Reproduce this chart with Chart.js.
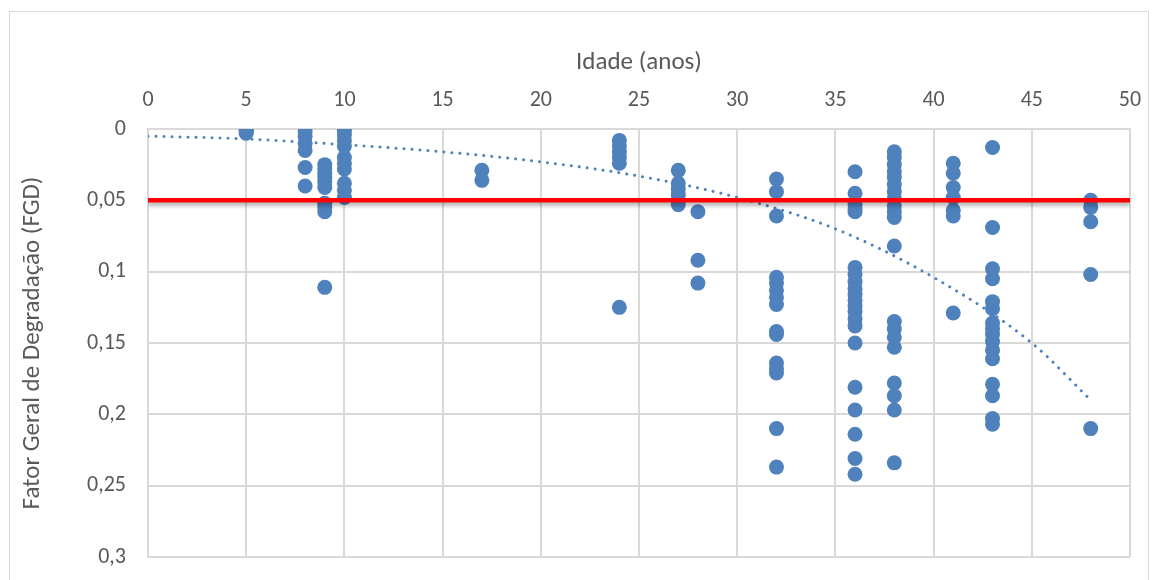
<!DOCTYPE html>
<html>
<head>
<meta charset="utf-8">
<script src="https://cdn.jsdelivr.net/npm/chart.js@4.4.1/dist/chart.umd.min.js"></script>
<style>
  body { margin: 0; background: #fff; }
  canvas { display: block; }
</style>
</head>
<body>
<canvas id="fgdChart" width="1158" height="580"></canvas>
<script>
// ages (anos) and the FGD readings found at each age
const ages = [5, 8, 9, 10, 17, 24, 27, 28, 32, 36, 38, 41, 43, 48];
const fgdByAge = [
  [0, 0.001, 0.002, 0.003],
  [0.002, 0.005, 0.01, 0.015, 0.027, 0.04],
  [0.025, 0.028, 0.031, 0.034, 0.037, 0.041, 0.052, 0.055, 0.058, 0.111],
  [0.001, 0.004, 0.008, 0.012, 0.02, 0.024, 0.028, 0.038, 0.043, 0.048],
  [0.029, 0.036],
  [0.008, 0.012, 0.016, 0.02, 0.024, 0.125],
  [0.029, 0.038, 0.042, 0.046, 0.05, 0.053],
  [0.058, 0.092, 0.108],
  [0.035, 0.044, 0.061, 0.104, 0.108, 0.113, 0.118, 0.123, 0.142, 0.144, 0.164, 0.168, 0.171, 0.21, 0.237],
  [0.03, 0.045, 0.053, 0.056, 0.058, 0.097, 0.102, 0.107, 0.112, 0.116, 0.12, 0.124, 0.128, 0.133, 0.138, 0.15, 0.181, 0.197, 0.214, 0.231, 0.242],
  [0.016, 0.02, 0.025, 0.03, 0.034, 0.039, 0.044, 0.049, 0.054, 0.058, 0.062, 0.082, 0.135, 0.14, 0.146, 0.153, 0.178, 0.187, 0.197, 0.234],
  [0.024, 0.031, 0.041, 0.048, 0.057, 0.061, 0.129],
  [0.013, 0.069, 0.098, 0.105, 0.121, 0.126, 0.136, 0.14, 0.144, 0.149, 0.155, 0.161, 0.179, 0.187, 0.203, 0.207],
  [0.05, 0.055, 0.065, 0.102, 0.21]
];

// dotted trend line
const trendX = [0, 5, 10, 15, 20, 25, 30, 35, 40, 45, 48];
const trendY = [0.005, 0.007, 0.011, 0.016, 0.023, 0.033, 0.048, 0.07, 0.104, 0.15, 0.19];

// red limit line
const limitX = [0, 50];
const limitY = [0.05, 0.05];

const textColor = '#595959';
const gridColor = '#d9d9d9';
const blue = '#4f81bd';
const fontFamily = "Carlito, Lato, 'Liberation Sans', sans-serif";

let scatterPoints = [];
ages.forEach((age, i) => {
  fgdByAge[i].forEach(v => scatterPoints.push({x: age, y: v}));
});
const trendPoints = trendX.map((x, i) => ({x: x, y: trendY[i]}));
const limitPoints = limitX.map((x, i) => ({x: x, y: limitY[i]}));

function commaLabel(v) {
  return String(+Number(v).toFixed(2)).replace('.', ',');
}

// outer frame of the chart + shadow under the red line
const framePlugin = {
  id: 'frame',
  beforeDraw(chart) {
    const c = chart.ctx;
    c.save();
    c.fillStyle = '#ffffff';
    c.fillRect(0, 0, chart.width, chart.height);
    c.strokeStyle = gridColor;
    c.lineWidth = 1;
    c.strokeRect(9.5, 11.5, 1139, 620);
    c.restore();
  },
  beforeDatasetDraw(chart, args) {
    if (args.index === 0) {
      chart.ctx.save();
      chart.ctx.shadowColor = 'rgba(0, 0, 0, 0.35)';
      chart.ctx.shadowOffsetY = 3;
      chart.ctx.shadowBlur = 4;
    }
  },
  afterDatasetDraw(chart, args) {
    if (args.index === 0) {
      chart.ctx.restore();
    }
  }
};

const ctx = document.getElementById('fgdChart').getContext('2d');
const myChart = new Chart(ctx, {
  type: 'scatter',
  data: {
    datasets: [{
      type: 'line',
      label: 'Limite',
      data: limitPoints,
      borderColor: '#ff0000',
      borderWidth: 4.5,
      pointRadius: 0,
      fill: false,
    }, {
      type: 'line',
      label: 'Tendência',
      data: trendPoints,
      borderColor: blue,
      borderWidth: 3,
      borderDash: [0.01, 8],
      borderCapStyle: 'round',
      cubicInterpolationMode: 'monotone',
      pointRadius: 0,
      fill: false,
    }, {
      label: 'FGD',
      data: scatterPoints,
      backgroundColor: blue,
      borderColor: blue,
      borderWidth: 0,
      pointRadius: 7.5,
    }]
  },
  options: {
    responsive: false,
    devicePixelRatio: 1,
    animation: false,
    layout: {
      padding: {left: 9, top: 11, right: 28, bottom: 23}
    },
    plugins: {
      legend: {display: false},
      tooltip: {enabled: false}
    },
    scales: {
      x: {
        type: 'linear',
        position: 'top',
        min: 0,
        max: 50,
        afterFit: scale => { scale.height = 118; },
        ticks: {
          stepSize: 5,
          padding: 15,
          color: textColor,
          font: {family: fontFamily, size: 22},
        },
        grid: {color: gridColor, lineWidth: 2, drawTicks: false},
        border: {color: gridColor, width: 2},
        title: {
          display: true,
          text: 'Idade (anos)',
          color: textColor,
          font: {family: fontFamily, size: 25},
          padding: {top: 37, bottom: 0}
        }
      },
      y: {
        type: 'linear',
        reverse: true,
        min: 0,
        max: 0.3,
        afterFit: scale => {
          scale.width = 139;
          scale.paddingTop = 0;
          scale.paddingBottom = 0;
        },
        ticks: {
          stepSize: 0.05,
          padding: 22,
          color: textColor,
          font: {family: fontFamily, size: 22},
          callback: v => commaLabel(v)
        },
        grid: {color: gridColor, lineWidth: 2, drawTicks: false},
        border: {color: gridColor, width: 2},
        title: {
          display: true,
          text: 'Fator Geral de Degradação (FGD)',
          color: textColor,
          font: {family: fontFamily, size: 25},
          padding: {top: 9, bottom: 0}
        }
      }
    }
  },
  plugins: [framePlugin]
});
</script>
</body>
</html>
